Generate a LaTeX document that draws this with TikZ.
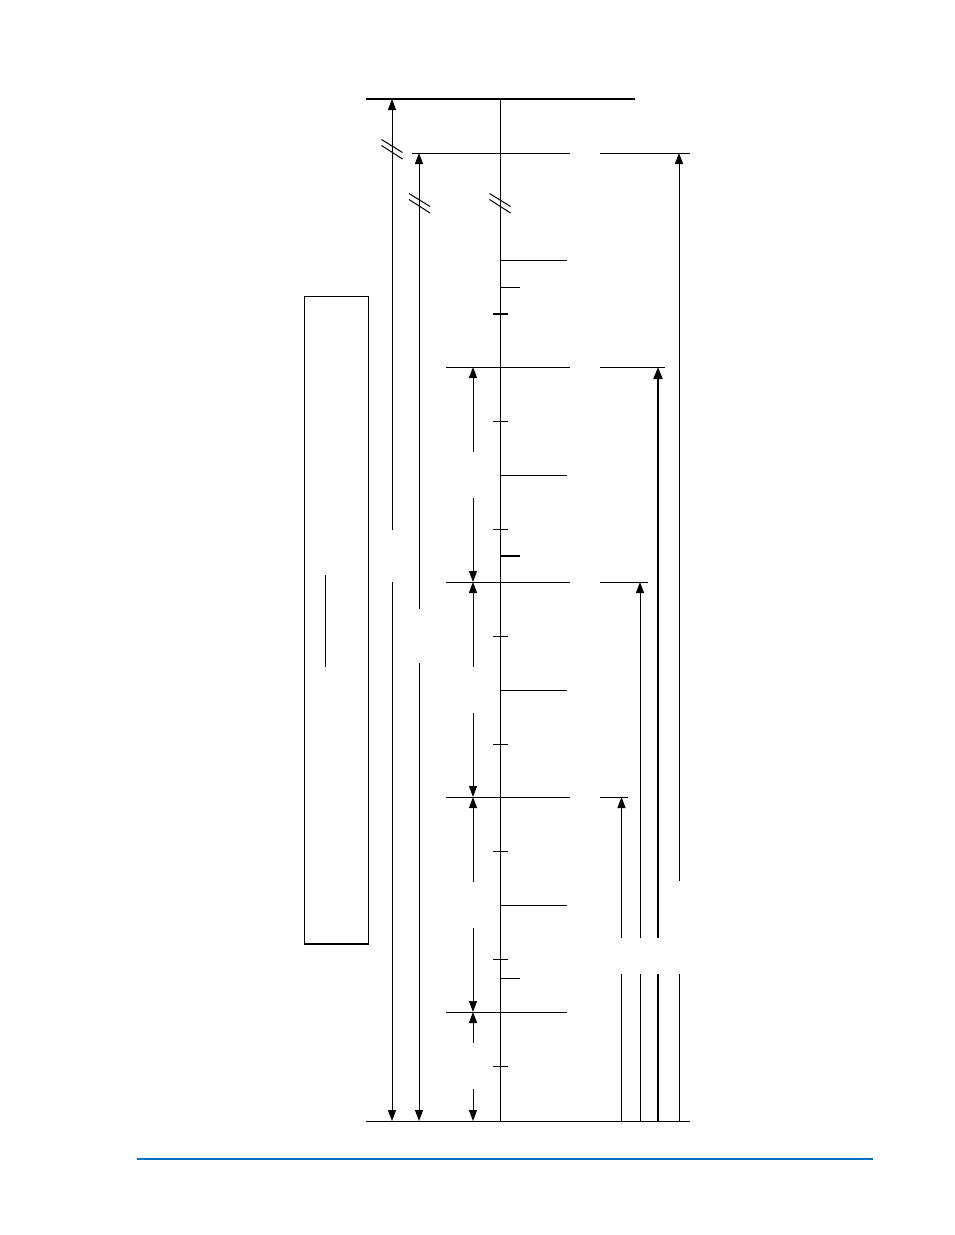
\documentclass[tikz,border=0pt]{standalone}
\usetikzlibrary{arrows.meta}
\definecolor{rule}{HTML}{0070C0}
\tikzset{
  ln/.style={line width=1pt},
  thk/.style={line width=2pt},
  arr/.style={ln,-{Triangle[width=8pt,length=11pt]}},
  arrthk/.style={thk,-{Triangle[width=9pt,length=12pt]}},
  brk/.style={ln},
}
\begin{document}
\begin{tikzpicture}[x=1pt,y=-1pt,line cap=butt]
\useasboundingbox (0,0) rectangle (954,1235);
% top bus and main stem
\draw[thk] (366,99) -- (635,99);
\draw[ln] (500,99) -- (500,1121);
% bottom line
\draw[ln] (366,1121) -- (690,1121);
% level 153
\draw[ln] (412,153) -- (570,153);
\draw[ln] (600,153) -- (690,153);
% levels
\foreach \y/\r in {367/665,582/648,797/628}{
  \draw[ln] (446,\y) -- (570,\y);
  \draw[ln] (600,\y) -- (\r,\y);
}
\draw[ln] (446,1012) -- (567,1012);
% long side lines
\foreach \y in {260,475,690,905}{ \draw[ln] (500,\y) -- (567,\y); }
% centred ticks
\foreach \y in {421,529,636,744,851,959,1066}{ \draw[ln] (493,\y) -- (508,\y); }
\draw[thk] (493,314) -- (508,314);
% short right ticks
\draw[ln] (500,287) -- (520,287);
\draw[ln] (500,978) -- (520,978);
\draw[thk] (500,555.5) -- (520,555.5);
% break marks
\foreach \cx/\cy in {392/149,419.5/203,500/203}{
  \draw[brk] (\cx-10.5,\cy-9.5) -- (\cx+10.5,\cy+3.5);
  \draw[brk] (\cx-10.5,\cy-3.5) -- (\cx+10.5,\cy+10);
}
% left dimension arrows
\draw[arr] (392,530) -- (392,99);
\draw[arr] (392,582) -- (392,1121);
\draw[arr] (419,609) -- (419,153);
\draw[arr] (419,663) -- (419,1121);
% x=473 interval arrows
\foreach \a/\b in {367/582,582/797,797/1012}{
  \draw[arr] (473,\a+85) -- (473,\a);
  \draw[arr] (473,\a+131) -- (473,\b);
}
\draw[arr] (473,1043) -- (473,1012);
\draw[arr] (473,1089) -- (473,1121);
% right arrows
\draw[arr] (621.5,938) -- (621.5,797);
\draw[ln] (621.5,974) -- (621.5,1121);
\draw[arr] (640,938) -- (640,582);
\draw[ln] (640,974) -- (640,1121);
\draw[arrthk] (658,938) -- (658,367);
\draw[thk] (658,974) -- (658,1121);
\draw[arr] (679,881) -- (679,153);
\draw[ln] (679,974) -- (679,1121);
% left box
\draw[ln] (304,944) -- (304,296) -- (368,296) -- (368,944);
\draw[thk] (303.5,944) -- (368.5,944);
\draw[ln] (325,575) -- (325,667);
% footer rule
\draw[rule,line width=1.3pt] (137,1159) -- (873,1159);
\end{tikzpicture}
\end{document}
